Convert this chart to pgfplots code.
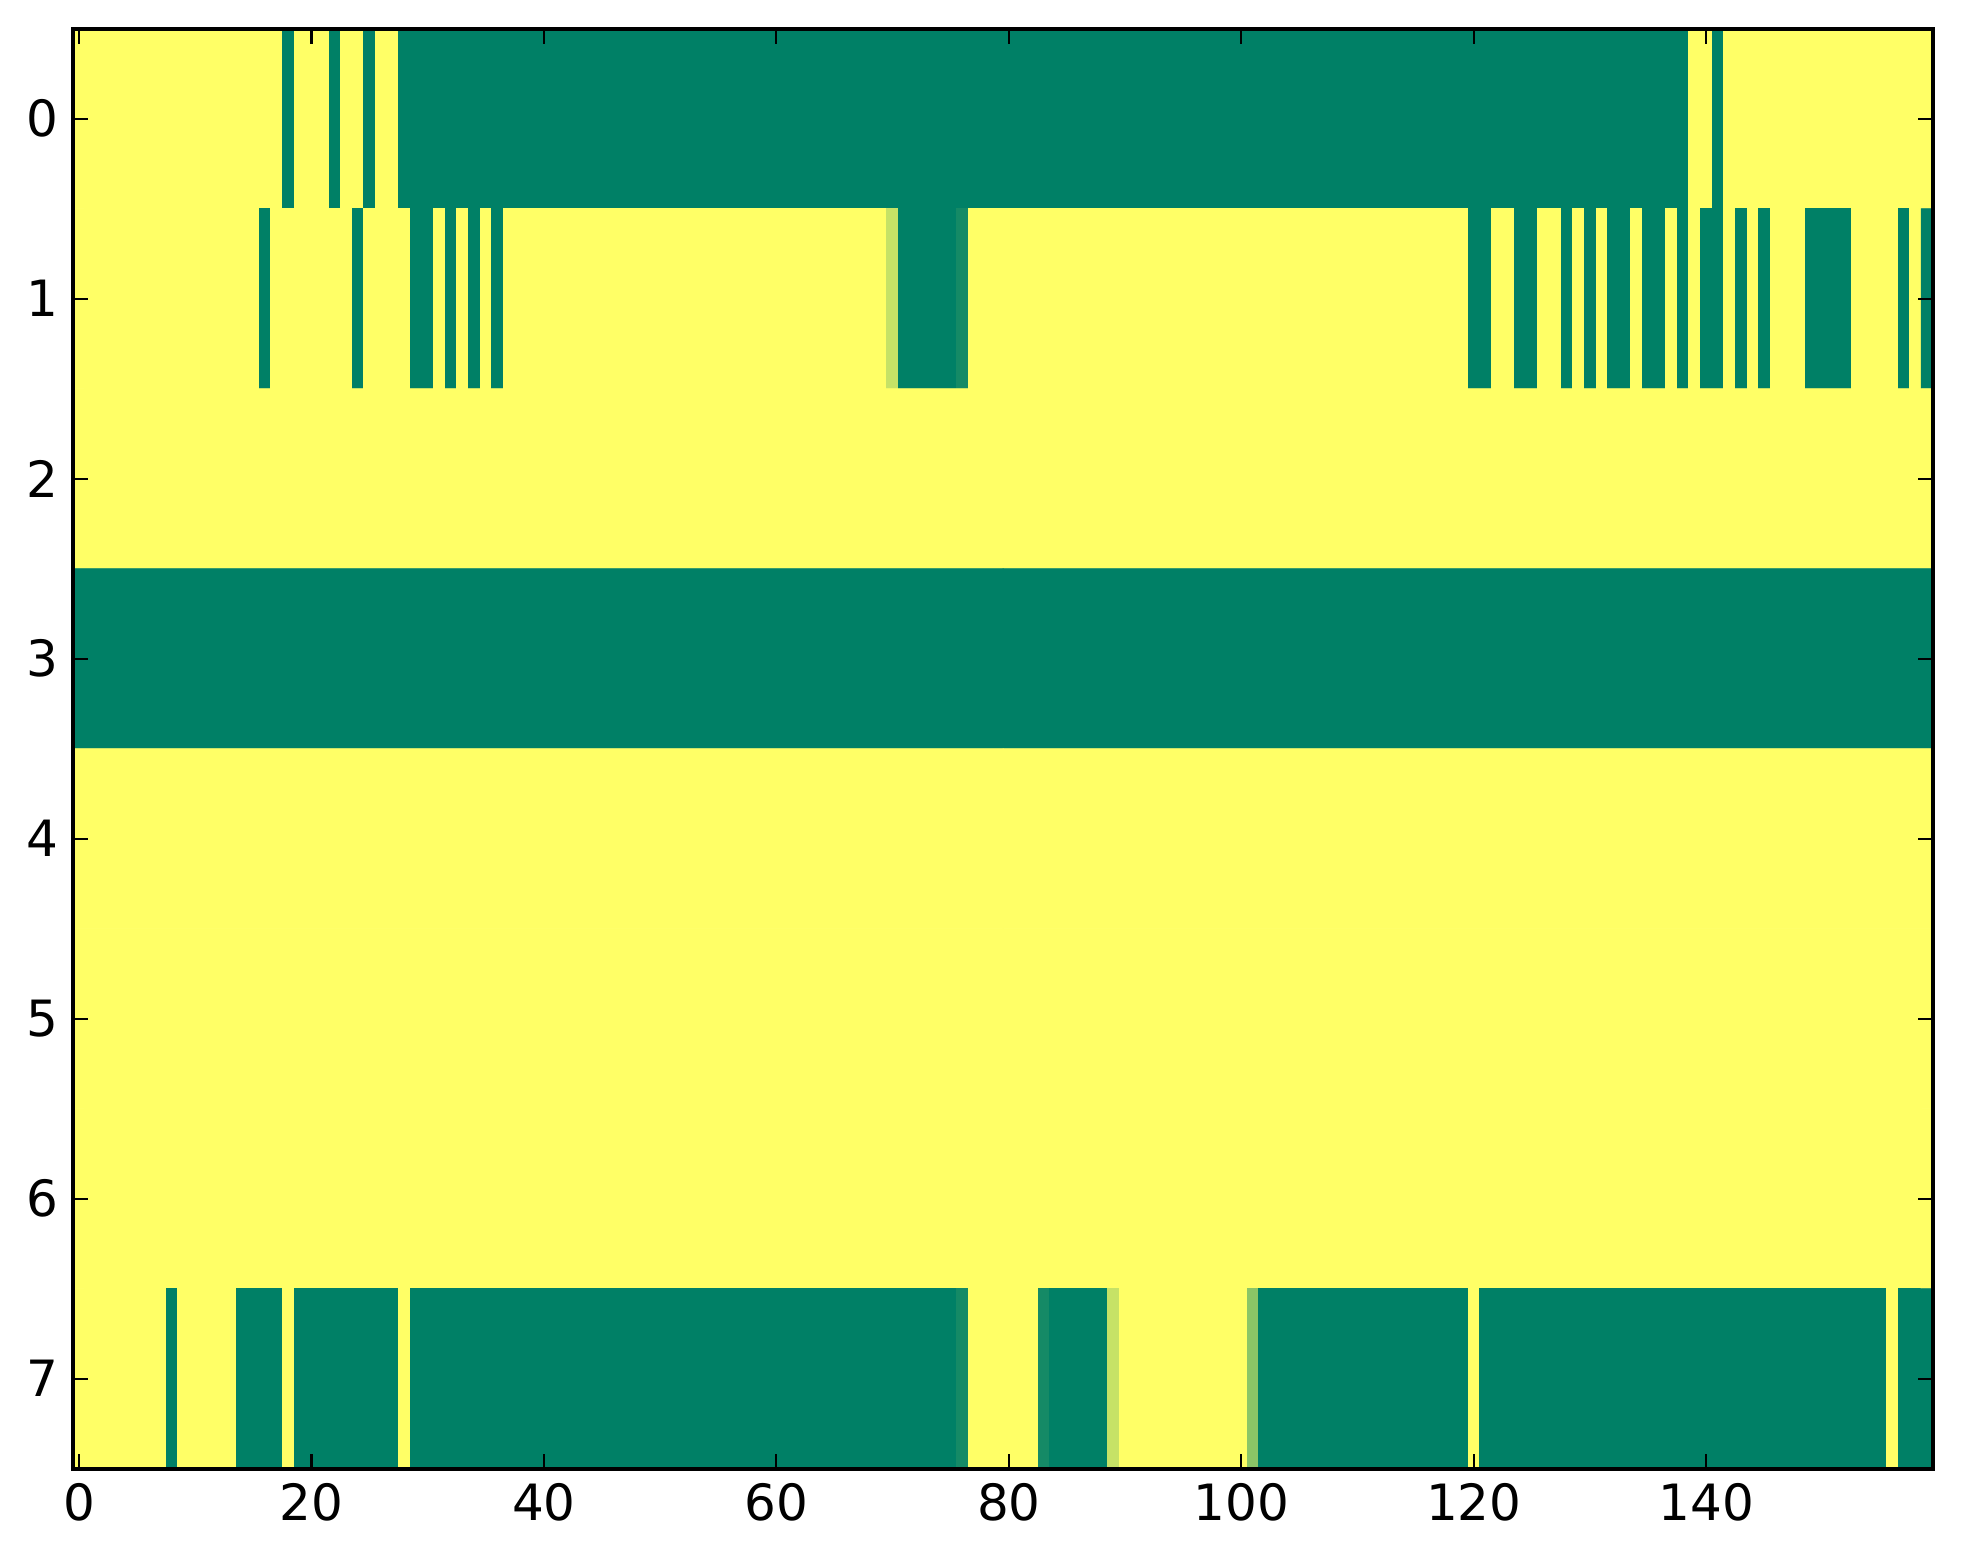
\documentclass[border=0pt]{standalone}
\usepackage{fontspec}
\setmainfont{DejaVu Sans}
\usepackage{pgfplots}
\pgfplotsset{compat=1.18}
\begin{document}
\begin{tikzpicture}
\begin{axis}[
  at={(0,0)}, anchor=south west,
  scale only axis, width=446.35pt, height=345.6pt,
  xmin=-0.5, xmax=159.5, ymin=-0.5, ymax=7.5, y dir=reverse,
  xtick={0,20,40,60,80,100,120,140}, ytick={0,1,2,3,4,5,6,7},
  tick align=inside, major tick length=3.6pt,
  tick style={black, line width=0.5pt},
  axis line style={line width=0.9pt},
  axis on top,
  tick label style={font=\fontsize{12pt}{14pt}\selectfont},
  /pgf/number format/assume math mode=true,
  colormap={summer}{rgb=(0,0.5,0.4) rgb=(1,1,0.4)},
  point meta min=0, point meta max=1,
]
% rows 0 and 1
\addplot[matrix plot, line width=0.2pt, mesh/cols=160, point meta=explicit] table[row sep=\\, meta=c]{
x y c\\
0 0 1\\1 0 1\\2 0 1\\3 0 1\\4 0 1\\5 0 1\\6 0 1\\7 0 1\\8 0 1\\9 0 1\\
10 0 1\\11 0 1\\12 0 1\\13 0 1\\14 0 1\\15 0 1\\16 0 1\\17 0 1\\18 0 0\\19 0 1\\
20 0 1\\21 0 1\\22 0 0\\23 0 1\\24 0 1\\25 0 0\\26 0 1\\27 0 1\\28 0 0\\29 0 0\\
30 0 0\\31 0 0\\32 0 0\\33 0 0\\34 0 0\\35 0 0\\36 0 0\\37 0 0\\38 0 0\\39 0 0\\
40 0 0\\41 0 0\\42 0 0\\43 0 0\\44 0 0\\45 0 0\\46 0 0\\47 0 0\\48 0 0\\49 0 0\\
50 0 0\\51 0 0\\52 0 0\\53 0 0\\54 0 0\\55 0 0\\56 0 0\\57 0 0\\58 0 0\\59 0 0\\
60 0 0\\61 0 0\\62 0 0\\63 0 0\\64 0 0\\65 0 0\\66 0 0\\67 0 0\\68 0 0\\69 0 0\\
70 0 0\\71 0 0\\72 0 0\\73 0 0\\74 0 0\\75 0 0\\76 0 0\\77 0 0\\78 0 0\\79 0 0\\
80 0 0\\81 0 0\\82 0 0\\83 0 0\\84 0 0\\85 0 0\\86 0 0\\87 0 0\\88 0 0\\89 0 0\\
90 0 0\\91 0 0\\92 0 0\\93 0 0\\94 0 0\\95 0 0\\96 0 0\\97 0 0\\98 0 0\\99 0 0\\
100 0 0\\101 0 0\\102 0 0\\103 0 0\\104 0 0\\105 0 0\\106 0 0\\107 0 0\\108 0 0\\109 0 0\\
110 0 0\\111 0 0\\112 0 0\\113 0 0\\114 0 0\\115 0 0\\116 0 0\\117 0 0\\118 0 0\\119 0 0\\
120 0 0\\121 0 0\\122 0 0\\123 0 0\\124 0 0\\125 0 0\\126 0 0\\127 0 0\\128 0 0\\129 0 0\\
130 0 0\\131 0 0\\132 0 0\\133 0 0\\134 0 0\\135 0 0\\136 0 0\\137 0 0\\138 0 0\\139 0 1\\
140 0 1\\141 0 0\\142 0 1\\143 0 1\\144 0 1\\145 0 1\\146 0 1\\147 0 1\\148 0 1\\149 0 1\\
150 0 1\\151 0 1\\152 0 1\\153 0 1\\154 0 1\\155 0 1\\156 0 1\\157 0 1\\158 0 1\\159 0 1\\
0 1 1\\1 1 1\\2 1 1\\3 1 1\\4 1 1\\5 1 1\\6 1 1\\7 1 1\\8 1 1\\9 1 1\\
10 1 1\\11 1 1\\12 1 1\\13 1 1\\14 1 1\\15 1 1\\16 1 0\\17 1 1\\18 1 1\\19 1 1\\
20 1 1\\21 1 1\\22 1 1\\23 1 1\\24 1 0\\25 1 1\\26 1 1\\27 1 1\\28 1 1\\29 1 0\\
30 1 0\\31 1 1\\32 1 0\\33 1 1\\34 1 0\\35 1 1\\36 1 0\\37 1 1\\38 1 1\\39 1 1\\
40 1 1\\41 1 1\\42 1 1\\43 1 1\\44 1 1\\45 1 1\\46 1 1\\47 1 1\\48 1 1\\49 1 1\\
50 1 1\\51 1 1\\52 1 1\\53 1 1\\54 1 1\\55 1 1\\56 1 1\\57 1 1\\58 1 1\\59 1 1\\
60 1 1\\61 1 1\\62 1 1\\63 1 1\\64 1 1\\65 1 1\\66 1 1\\67 1 1\\68 1 1\\69 1 1\\
70 1 0.77\\71 1 0\\72 1 0\\73 1 0\\74 1 0\\75 1 0\\76 1 0.08\\77 1 1\\78 1 1\\79 1 1\\
80 1 1\\81 1 1\\82 1 1\\83 1 1\\84 1 1\\85 1 1\\86 1 1\\87 1 1\\88 1 1\\89 1 1\\
90 1 1\\91 1 1\\92 1 1\\93 1 1\\94 1 1\\95 1 1\\96 1 1\\97 1 1\\98 1 1\\99 1 1\\
100 1 1\\101 1 1\\102 1 1\\103 1 1\\104 1 1\\105 1 1\\106 1 1\\107 1 1\\108 1 1\\109 1 1\\
110 1 1\\111 1 1\\112 1 1\\113 1 1\\114 1 1\\115 1 1\\116 1 1\\117 1 1\\118 1 1\\119 1 1\\
120 1 0\\121 1 0\\122 1 1\\123 1 1\\124 1 0\\125 1 0\\126 1 1\\127 1 1\\128 1 0\\129 1 1\\
130 1 0\\131 1 1\\132 1 0\\133 1 0\\134 1 1\\135 1 0\\136 1 0\\137 1 1\\138 1 0\\139 1 1\\
140 1 0\\141 1 0\\142 1 1\\143 1 0\\144 1 1\\145 1 0\\146 1 1\\147 1 1\\148 1 1\\149 1 0\\
150 1 0\\151 1 0\\152 1 0\\153 1 1\\154 1 1\\155 1 1\\156 1 1\\157 1 0\\158 1 1\\159 1 0\\
};
% rows 2 to 5 (uniform rows)
\addplot[matrix plot, line width=0.2pt, mesh/cols=2, point meta=explicit] table[row sep=\\, meta=c]{
x y c\\
39.5 2 1\\119.5 2 1\\
39.5 3 0\\119.5 3 0\\
39.5 4 1\\119.5 4 1\\
39.5 5 1\\119.5 5 1\\
};
% rows 6 and 7
\addplot[matrix plot, line width=0.2pt, mesh/cols=160, point meta=explicit] table[row sep=\\, meta=c]{
x y c\\
0 6 1\\1 6 1\\2 6 1\\3 6 1\\4 6 1\\5 6 1\\6 6 1\\7 6 1\\8 6 1\\9 6 1\\
10 6 1\\11 6 1\\12 6 1\\13 6 1\\14 6 1\\15 6 1\\16 6 1\\17 6 1\\18 6 1\\19 6 1\\
20 6 1\\21 6 1\\22 6 1\\23 6 1\\24 6 1\\25 6 1\\26 6 1\\27 6 1\\28 6 1\\29 6 1\\
30 6 1\\31 6 1\\32 6 1\\33 6 1\\34 6 1\\35 6 1\\36 6 1\\37 6 1\\38 6 1\\39 6 1\\
40 6 1\\41 6 1\\42 6 1\\43 6 1\\44 6 1\\45 6 1\\46 6 1\\47 6 1\\48 6 1\\49 6 1\\
50 6 1\\51 6 1\\52 6 1\\53 6 1\\54 6 1\\55 6 1\\56 6 1\\57 6 1\\58 6 1\\59 6 1\\
60 6 1\\61 6 1\\62 6 1\\63 6 1\\64 6 1\\65 6 1\\66 6 1\\67 6 1\\68 6 1\\69 6 1\\
70 6 1\\71 6 1\\72 6 1\\73 6 1\\74 6 1\\75 6 1\\76 6 1\\77 6 1\\78 6 1\\79 6 1\\
80 6 1\\81 6 1\\82 6 1\\83 6 1\\84 6 1\\85 6 1\\86 6 1\\87 6 1\\88 6 1\\89 6 1\\
90 6 1\\91 6 1\\92 6 1\\93 6 1\\94 6 1\\95 6 1\\96 6 1\\97 6 1\\98 6 1\\99 6 1\\
100 6 1\\101 6 1\\102 6 1\\103 6 1\\104 6 1\\105 6 1\\106 6 1\\107 6 1\\108 6 1\\109 6 1\\
110 6 1\\111 6 1\\112 6 1\\113 6 1\\114 6 1\\115 6 1\\116 6 1\\117 6 1\\118 6 1\\119 6 1\\
120 6 1\\121 6 1\\122 6 1\\123 6 1\\124 6 1\\125 6 1\\126 6 1\\127 6 1\\128 6 1\\129 6 1\\
130 6 1\\131 6 1\\132 6 1\\133 6 1\\134 6 1\\135 6 1\\136 6 1\\137 6 1\\138 6 1\\139 6 1\\
140 6 1\\141 6 1\\142 6 1\\143 6 1\\144 6 1\\145 6 1\\146 6 1\\147 6 1\\148 6 1\\149 6 1\\
150 6 1\\151 6 1\\152 6 1\\153 6 1\\154 6 1\\155 6 1\\156 6 1\\157 6 1\\158 6 1\\159 6 1\\
0 7 1\\1 7 1\\2 7 1\\3 7 1\\4 7 1\\5 7 1\\6 7 1\\7 7 1\\8 7 0\\9 7 1\\
10 7 1\\11 7 1\\12 7 1\\13 7 1\\14 7 0\\15 7 0\\16 7 0\\17 7 0\\18 7 1\\19 7 0\\
20 7 0\\21 7 0\\22 7 0\\23 7 0\\24 7 0\\25 7 0\\26 7 0\\27 7 0\\28 7 1\\29 7 0\\
30 7 0\\31 7 0\\32 7 0\\33 7 0\\34 7 0\\35 7 0\\36 7 0\\37 7 0\\38 7 0\\39 7 0\\
40 7 0\\41 7 0\\42 7 0\\43 7 0\\44 7 0\\45 7 0\\46 7 0\\47 7 0\\48 7 0\\49 7 0\\
50 7 0\\51 7 0\\52 7 0\\53 7 0\\54 7 0\\55 7 0\\56 7 0\\57 7 0\\58 7 0\\59 7 0\\
60 7 0\\61 7 0\\62 7 0\\63 7 0\\64 7 0\\65 7 0\\66 7 0\\67 7 0\\68 7 0\\69 7 0\\
70 7 0\\71 7 0\\72 7 0\\73 7 0\\74 7 0\\75 7 0\\76 7 0.08\\77 7 1\\78 7 1\\79 7 1\\
80 7 1\\81 7 1\\82 7 1\\83 7 0.08\\84 7 0\\85 7 0\\86 7 0\\87 7 0\\88 7 0\\89 7 0.77\\
90 7 1\\91 7 1\\92 7 1\\93 7 1\\94 7 1\\95 7 1\\96 7 1\\97 7 1\\98 7 1\\99 7 1\\
100 7 1\\101 7 0.54\\102 7 0\\103 7 0\\104 7 0\\105 7 0\\106 7 0\\107 7 0\\108 7 0\\109 7 0\\
110 7 0\\111 7 0\\112 7 0\\113 7 0\\114 7 0\\115 7 0\\116 7 0\\117 7 0\\118 7 0\\119 7 0\\
120 7 1\\121 7 0\\122 7 0\\123 7 0\\124 7 0\\125 7 0\\126 7 0\\127 7 0\\128 7 0\\129 7 0\\
130 7 0\\131 7 0\\132 7 0\\133 7 0\\134 7 0\\135 7 0\\136 7 0\\137 7 0\\138 7 0\\139 7 0\\
140 7 0\\141 7 0\\142 7 0\\143 7 0\\144 7 0\\145 7 0\\146 7 0\\147 7 0\\148 7 0\\149 7 0\\
150 7 0\\151 7 0\\152 7 0\\153 7 0\\154 7 0\\155 7 0\\156 7 1\\157 7 0\\158 7 0\\159 7 0\\
};
\end{axis}
\pgfresetboundingbox
\useasboundingbox (-17.57pt,-22.87pt) rectangle (453.55pt,352.49pt);
\end{tikzpicture}
\end{document}
